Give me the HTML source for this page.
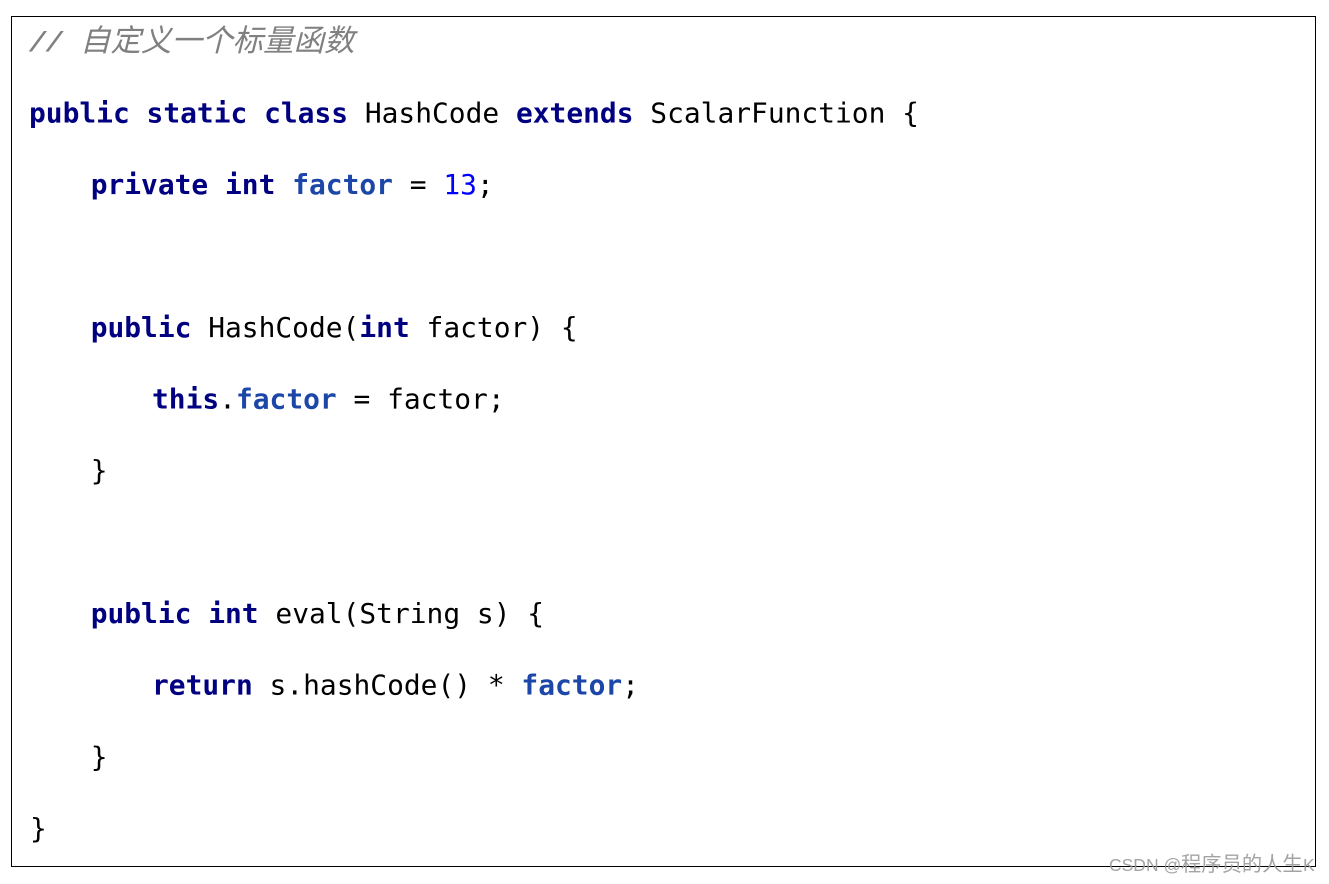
<!DOCTYPE html>
<html><head><meta charset="utf-8"><style>
html,body{margin:0;padding:0;background:#fff;width:1329px;height:884px;overflow:hidden}
svg{display:block}
text{font-family:"DejaVu Sans Mono","Liberation Mono",monospace;font-size:27.9px;white-space:pre;fill:#000}
.k{fill:#000080;font-weight:bold}
.f{fill:#1c47a8;font-weight:bold}
.n{fill:#0000ff}
.w{fill:#9a9a9a;fill-opacity:.9;font-family:'Liberation Sans','Noto Sans CJK SC',sans-serif;font-size:17.5px}
</style></head><body>
<svg width="1329" height="884" viewBox="0 0 1329 884" xmlns="http://www.w3.org/2000/svg">
<rect x="11.5" y="16.5" width="1304" height="850" fill="#fff" stroke="#000" stroke-width="1"/>
<text x="29" y="51" style="fill:#808080;font-style:italic;font-family:'Liberation Mono','Noto Sans CJK SC',sans-serif;font-size:27.9px;font-weight:bold">//</text>
<text x="80" y="51" style="fill:#808080;font-style:italic;font-family:'Noto Sans CJK SC',sans-serif;font-size:30.5px">自定义一个标量函数</text>
<text x="29" y="122.300"><tspan class="k">public static class</tspan> HashCode <tspan class="k">extends</tspan> ScalarFunction {</text>
<text x="90.700" y="194"><tspan class="k">private int</tspan> <tspan class="f">factor</tspan> = <tspan class="n">13</tspan>;</text>
<text x="90.700" y="337"><tspan class="k">public</tspan> HashCode(<tspan class="k">int</tspan> factor) {</text>
<text x="152" y="408.300"><tspan class="k">this</tspan>.<tspan class="f">factor</tspan> = factor;</text>
<text x="90.700" y="480">}</text>
<text x="90.700" y="623"><tspan class="k">public int</tspan> eval(String s) {</text>
<text x="152" y="694.300"><tspan class="k">return</tspan> s.hashCode() * <tspan class="f">factor</tspan>;</text>
<text x="90.700" y="766.300">}</text>
<text x="30" y="838">}</text>
<text class="w" x="1109" y="871">CSDN @</text>
<text class="w" x="1181" y="871" style="font-size:20.3px">程序员的人生</text>
<text class="w" x="1303" y="871">K</text>
</svg>
</body></html>
